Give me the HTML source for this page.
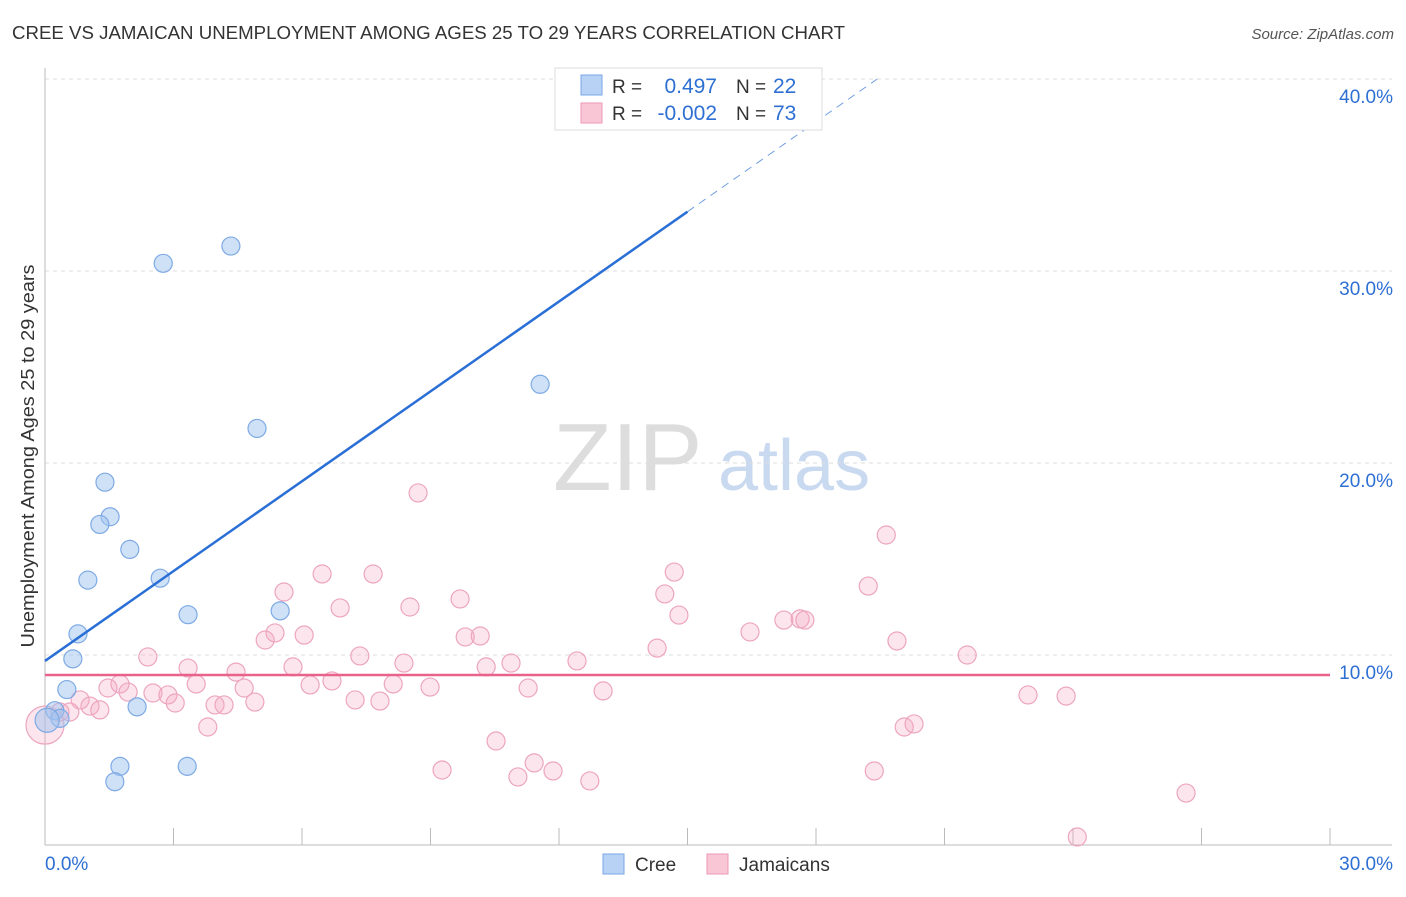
<!DOCTYPE html>
<html><head><meta charset="utf-8"><style>
body{margin:0;background:#fff;font-family:"Liberation Sans",sans-serif}
svg text{font-family:"Liberation Sans",sans-serif}
</style></head><body>
<svg id="c" width="1406" height="892">
<text x="12" y="39" font-size="18" fill="#333" textLength="833" lengthAdjust="spacingAndGlyphs">CREE VS JAMAICAN UNEMPLOYMENT AMONG AGES 25 TO 29 YEARS CORRELATION CHART</text>
<text x="1394" y="39" font-size="15" fill="#555" text-anchor="end" font-style="italic">Source: ZipAtlas.com</text>
<text x="34" y="456" font-size="18" fill="#333" text-anchor="middle" textLength="383" lengthAdjust="spacingAndGlyphs" transform="rotate(-90 34 456)">Unemployment Among Ages 25 to 29 years</text>
<g><text x="553" y="490" font-size="96" fill="#ddd" font-family="Liberation Serif">ZIP</text><text x="718" y="490" font-size="72" fill="#c9d9f0">atlas</text></g>
<g id="grid"></g><g id="pts"></g><g id="trend"></g>
<g>
<rect x="555" y="68" width="267" height="62" fill="#fff" stroke="#ddd"/>
<rect x="581" y="75" width="21" height="20" fill="#b8d2f6" stroke="#7aa6e6"/>
<rect x="581" y="103" width="21" height="20" fill="#f9c6d6" stroke="#ec98b6"/>
<text x="612" y="93" font-size="19" fill="#333">R =</text><text x="717" y="93" font-size="21" fill="#2d6fd3" text-anchor="end">0.497</text>
<text x="736" y="93" font-size="19" fill="#333">N =</text><text x="773" y="93" font-size="21" fill="#2d6fd3">22</text>
<text x="612" y="120" font-size="19" fill="#333">R =</text><text x="717" y="120" font-size="21" fill="#2d6fd3" text-anchor="end">-0.002</text>
<text x="736" y="120" font-size="19" fill="#333">N =</text><text x="773" y="120" font-size="21" fill="#2d6fd3">73</text>
</g>
<g>
<rect x="603" y="854" width="21" height="20" fill="#b8d2f6" stroke="#7aa6e6"/><text x="635" y="871" font-size="19" fill="#333">Cree</text>
<rect x="707" y="854" width="21" height="20" fill="#f9c6d6" stroke="#ec98b6"/><text x="739" y="871" font-size="19" fill="#333">Jamaicans</text>
</g>
</svg>
<script>
const creeX=[2.76,4.34,11.56,4.95,1.40,1.52,1.28,1.98,1.00,2.69,3.34,5.49,0.77,0.65,0.51,0.23,0.35,2.15,1.75,1.63,3.32,0.05];
const creeY=[30.4,31.3,24.1,21.8,19.0,17.2,16.8,15.5,13.9,14.0,12.1,12.3,11.1,9.8,8.2,7.1,6.7,7.3,4.2,3.4,4.2,6.6];
const jamX=[0.0,0.35,0.58,0.82,1.05,1.28,1.47,1.75,1.94,2.40,2.52,2.87,3.04,3.34,3.53,3.80,3.97,4.18,4.46,4.65,4.90,5.14,5.37,5.58,5.79,6.05,6.19,6.47,6.70,6.89,7.24,7.35,7.66,7.82,8.13,8.38,8.52,8.71,8.99,9.27,9.69,9.81,10.16,10.30,10.53,10.88,11.04,11.28,11.42,11.86,12.42,12.72,13.03,14.29,14.47,14.69,14.80,16.46,17.25,17.63,17.74,19.22,19.36,19.64,19.89,20.06,20.29,21.53,22.95,23.84,24.10,26.64];
const jamY=[6.35,7.03,7.03,7.66,7.34,7.14,8.28,8.49,8.07,9.90,8.02,7.92,7.50,9.32,8.49,6.25,7.40,7.40,9.11,8.28,7.55,10.78,11.15,13.28,9.38,11.04,8.44,14.22,8.65,12.45,7.66,9.95,14.22,7.60,8.49,9.58,12.50,18.44,8.33,4.01,12.92,10.94,10.99,9.38,5.52,9.58,3.65,8.28,4.38,3.96,9.69,3.44,8.13,10.36,13.18,14.32,12.08,11.20,11.82,11.88,11.82,13.59,3.96,16.25,10.73,6.25,6.41,10.00,7.92,7.86,0.52,2.81];
const yTicks=[10,20,30,40];
const yTickLabels=["10.0%","20.0%","30.0%","40.0%"];
const creeTrend=[9.69,1.56];
const jamTrend=[8.96,0];
const NS="http://www.w3.org/2000/svg";
const sx=v=>45+v/30*1285, sy=v=>847-v/40*768;
function mk(t,a,p){const e=document.createElementNS(NS,t);for(const k in a)e.setAttribute(k,a[k]);p.appendChild(e);return e;}
const g=document.getElementById('grid');
yTicks.forEach((t,i)=>{
 const l=mk('line',{x1:45,x2:1392,y1:sy(t),y2:sy(t),stroke:'#ddd','stroke-dasharray':'4,4'},g);
 
 
 const tx=mk('text',{x:1393,y:sy(t)+24,'font-size':19,fill:'#2d6fd3','text-anchor':'end'},g);tx.textContent=yTickLabels[i];
 
 
});
const ax=mk('line',{x1:45,x2:45,y1:68,y2:845,stroke:'#bbb'},g);


const bx=mk('line',{x1:45,x2:1392,y1:845,y2:845,stroke:'#bbb'},g);


for(let i=0;i<=10;i++){const t=mk('line',{x1:sx(i*3),x2:sx(i*3),y1:828,y2:845,stroke:'#bbb'},g);
 
 }
[["0.0%",45,'start'],["30.0%",1393,'end']].forEach(a=>{const t=mk('text',{x:a[1],y:870,'font-size':19,fill:'#2d6fd3','text-anchor':a[2]},g);t.textContent=a[0];
 
 });
const p=document.getElementById('pts');
jamX.forEach((x,i)=>{const c=mk('circle',{cx:sx(x),cy:sy(jamY[i]),r:i==0?19:9,fill:'rgba(244,170,195,0.3)',stroke:'#eda5bf','stroke-width':1.2},p);
 
 });
creeX.forEach((x,i)=>{const c=mk('circle',{cx:sx(x),cy:sy(creeY[i]),r:i==21?12:9,fill:'rgba(160,196,240,0.5)',stroke:'#7eaae4','stroke-width':1.2},p);
 
 });
const tr=document.getElementById('trend');
const f=(t,x)=>t[0]+t[1]*x;
let l=mk('line',{x1:sx(0),y1:sy(f(creeTrend,0)),x2:sx(15),y2:sy(f(creeTrend,15)),stroke:'#2a6fd6','stroke-width':2.5},tr);


const xe=(40-creeTrend[0])/creeTrend[1];
l=mk('line',{x1:sx(15),y1:sy(f(creeTrend,15)),x2:sx(xe),y2:sy(40),stroke:'#6f9fe0','stroke-width':1,'stroke-dasharray':'8,6'},tr);


l=mk('line',{x1:sx(0),y1:sy(f(jamTrend,0)),x2:sx(30),y2:sy(f(jamTrend,30)),stroke:'#e8628c','stroke-width':2.5},tr);


</script>
</body></html>
